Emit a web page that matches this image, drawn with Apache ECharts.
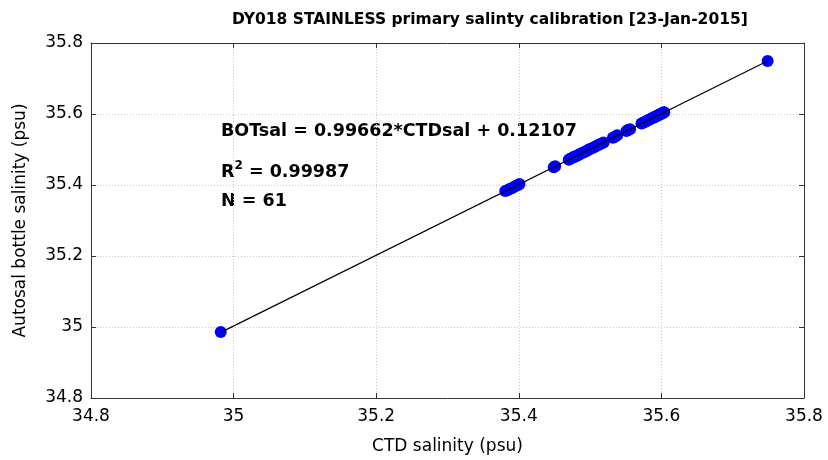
<!DOCTYPE html>
<html>
<head>
<meta charset="utf-8">
<script src="https://cdn.jsdelivr.net/npm/echarts@6/dist/echarts.min.js"></script>
<style>
  html, body { margin: 0; padding: 0; background: #fff; }
  #chart { width: 828px; height: 460px; }
</style>
</head>
<body>
<div id="chart"></div>
<script>
// CTD salinity (x) and autosal bottle salinity (y), 61 samples
const ctdSal = [
  34.982,
  35.381, 35.384, 35.387, 35.390, 35.393, 35.396, 35.399, 35.401,
  35.449, 35.451,
  35.470, 35.472, 35.474, 35.476, 35.478, 35.480, 35.483, 35.485, 35.487, 35.490,
  35.492, 35.495, 35.498, 35.501, 35.504, 35.507, 35.510, 35.513, 35.516, 35.519,
  35.532, 35.535, 35.538,
  35.551, 35.553, 35.556,
  35.572, 35.574, 35.576, 35.578, 35.580, 35.582, 35.584, 35.586, 35.588, 35.590,
  35.591, 35.592, 35.594, 35.595, 35.596, 35.597, 35.598, 35.599, 35.600, 35.601,
  35.602, 35.603, 35.604,
  35.749
]
const botSal = [
  34.986,
  35.383, 35.385, 35.389, 35.391, 35.394, 35.398, 35.400, 35.403,
  35.450, 35.453,
  35.471, 35.474, 35.475, 35.478, 35.479, 35.482, 35.484, 35.486, 35.489, 35.491,
  35.493, 35.496, 35.500, 35.502, 35.505, 35.508, 35.511, 35.514, 35.517, 35.520,
  35.533, 35.536, 35.540,
  35.552, 35.555, 35.557,
  35.573, 35.575, 35.577, 35.579, 35.581, 35.583, 35.585, 35.587, 35.589, 35.591,
  35.592, 35.593, 35.595, 35.596, 35.597, 35.598, 35.599, 35.600, 35.601, 35.602,
  35.603, 35.604, 35.605,
  35.749
]
const fitSlope = 0.99662
const fitIntercept = 0.12107
const axisTicks = [34.8, 35, 35.2, 35.4, 35.6, 35.8]

const points = ctdSal.map((x, i) => [x, botSal[i]])
const xLo = Math.min(...ctdSal)
const xHi = Math.max(...ctdSal)
const fitLine = [[xLo, fitSlope * xLo + fitIntercept], [xHi, fitSlope * xHi + fitIntercept]]

const font = 'DejaVu Sans'
const fmt = v => String(Math.round(v * 10) / 10)

const baseAxis = {
  type: 'value',
  min: axisTicks[0],
  max: axisTicks[axisTicks.length - 1],
  interval: 0.2,
  axisLine: { show: true, onZero: false, lineStyle: { color: '#333', width: 1 } },
  axisTick: { show: true, inside: true, length: 5, lineStyle: { color: '#333' } },
  splitLine: { show: false }
}

const chart = echarts.init(document.getElementById('chart'))
chart.setOption({
  animation: false,
  backgroundColor: '#fff',
  textStyle: { fontFamily: font },
  title: {
    text: 'DY018 STAINLESS primary salinty calibration [23-Jan-2015]',
    left: 227, top: 7,
    textStyle: { fontFamily: font, fontSize: 15.5, fontWeight: 'bold', color: '#000' }
  },
  grid: { left: 91, right: 24, top: 43, bottom: 62, outerBoundsMode: 'none' },
  xAxis: [
    Object.assign({}, baseAxis, {
      position: 'bottom',
      name: 'CTD salinity (psu)',
      nameLocation: 'middle',
      nameGap: 40,
      nameTextStyle: { fontFamily: font, fontSize: 17, color: '#000' },
      axisLabel: { fontFamily: font, fontSize: 17, color: '#000', margin: 10, formatter: fmt },
      splitLine: { show: true, lineStyle: { color: '#c8c8c8', type: [1, 2], width: 1 } }
    }),
    Object.assign({}, baseAxis, { position: 'top', axisLabel: { show: false } })
  ],
  yAxis: [
    Object.assign({}, baseAxis, {
      position: 'left',
      name: 'Autosal bottle salinity (psu)',
      nameLocation: 'middle',
      nameGap: 62,
      nameTextStyle: { fontFamily: font, fontSize: 17, color: '#000' },
      axisLabel: { fontFamily: font, fontSize: 17, color: '#000', margin: 8, formatter: fmt },
      splitLine: { show: true, lineStyle: { color: '#c8c8c8', type: [1, 2], width: 1 } }
    }),
    Object.assign({}, baseAxis, { position: 'right', axisLabel: { show: false } })
  ],
  series: [
    {
      type: 'line',
      data: fitLine,
      symbol: 'none',
      lineStyle: { color: '#000', width: 1.2 },
      z: 3
    },
    {
      type: 'scatter',
      data: points,
      symbol: 'circle',
      symbolSize: 12,
      itemStyle: { color: '#0000ff', opacity: 1 },
      z: 2
    }
  ],
  graphic: [
    {
      type: 'text', left: 221, top: 122,
      style: { text: 'BOTsal = 0.99662*CTDsal + 0.12107', font: 'bold 17.5px "DejaVu Sans"', fill: '#000' }
    },
    {
      type: 'text', left: 221, top: 160,
      style: {
        text: 'R{s|2} = 0.99987',
        font: 'bold 17.5px "DejaVu Sans"', fill: '#000',
        rich: { s: { font: 'bold 12px "DejaVu Sans"', verticalAlign: 'top', padding: [0, 0, 12, 0] } }
      }
    },
    {
      type: 'text', left: 221, top: 192,
      style: { text: 'N = 61', font: 'bold 17.5px "DejaVu Sans"', fill: '#000' }
    }
  ]
})
</script>
</body>
</html>
